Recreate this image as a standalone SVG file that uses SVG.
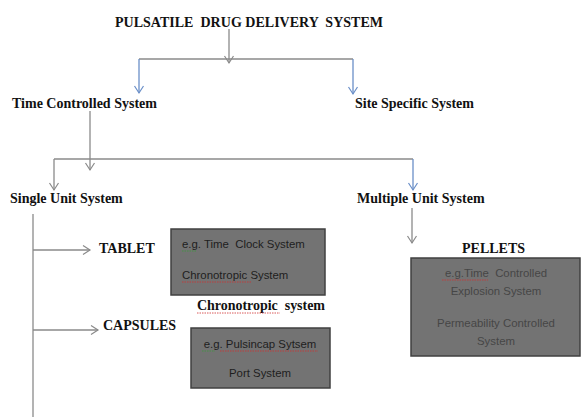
<svg xmlns="http://www.w3.org/2000/svg" width="581" height="417" viewBox="0 0 581 417">
<style>
.lbl{font-family:"Liberation Serif","Times New Roman",serif;font-weight:bold;font-size:14px;fill:#111}
.bx{fill:#737373;stroke:#404040;stroke-width:1.5}
.bt{font-family:"Liberation Sans",Arial,sans-serif;font-size:11.4px;fill:#1e1e1e}
.bt2{font-family:"Liberation Sans",Arial,sans-serif;font-size:11.4px;fill:#464646}
.g{stroke:#8a8a8a;stroke-width:1.3;fill:none}
.b{stroke:#6a8fc8;stroke-width:1.3;fill:none}
.sp{stroke:#d03030;stroke-width:0.8;fill:none;stroke-dasharray:1.5 1}
.sg{stroke:#3a9a3a;stroke-width:0.8;fill:none;stroke-dasharray:1.5 1}
</style>
<defs>
<marker id="ag" markerWidth="12" markerHeight="12" refX="0" refY="0" viewBox="-8 -6 10 12" orient="auto" markerUnits="userSpaceOnUse">
<path d="M-7,-4.5 L0,0 L-7,4.5" fill="none" stroke="#8a8a8a" stroke-width="1.2"/>
</marker>
<marker id="ab" markerWidth="12" markerHeight="12" refX="0" refY="0" viewBox="-8 -6 10 12" orient="auto" markerUnits="userSpaceOnUse">
<path d="M-7,-4.5 L0,0 L-7,4.5" fill="none" stroke="#6a8fc8" stroke-width="1.2"/>
</marker>
</defs>
<rect width="581" height="417" fill="#fff"/>
<g id="connectors">
<line class="g" x1="229" y1="29" x2="229" y2="63" marker-end="url(#ag)"/>
<line class="g" x1="139" y1="59" x2="353" y2="59"/>
<line class="b" x1="139" y1="59" x2="139" y2="93" marker-end="url(#ab)"/>
<line class="b" x1="353" y1="59" x2="353" y2="94" marker-end="url(#ab)"/>
<line class="g" x1="90" y1="111" x2="90" y2="170" marker-end="url(#ag)"/>
<line class="g" x1="54" y1="159" x2="413" y2="159"/>
<line class="g" x1="54" y1="159" x2="54" y2="190" marker-end="url(#ag)"/>
<line class="b" x1="413" y1="159" x2="413" y2="190" marker-end="url(#ab)"/>
<line class="g" x1="412" y1="208" x2="412" y2="243" marker-end="url(#ag)"/>
<line class="g" x1="33" y1="214" x2="33" y2="417"/>
<line class="g" x1="33" y1="250" x2="90" y2="250" marker-end="url(#ag)"/>
<line class="g" x1="33" y1="330" x2="98" y2="330" marker-end="url(#ag)"/>
</g>
<g id="title"><text class="lbl" x="115" y="27" xml:space="preserve" textLength="268" lengthAdjust="spacing">PULSATILE  DRUG DELIVERY  SYSTEM</text></g>
<g id="time-controlled"><text class="lbl" x="12" y="108">Time Controlled System</text></g>
<g id="site-specific"><text class="lbl" x="355" y="108">Site Specific System</text></g>
<g id="single-unit"><text class="lbl" x="10" y="203">Single Unit System</text></g>
<g id="multiple-unit"><text class="lbl" x="357" y="203">Multiple Unit System</text></g>
<g id="tablet"><text class="lbl" x="99" y="253">TABLET</text></g>
<g id="capsules"><text class="lbl" x="103" y="330">CAPSULES</text></g>
<g id="pellets"><text class="lbl" x="462" y="253">PELLETS</text></g>
<g id="chronotropic"><text class="lbl" x="197" y="310" xml:space="preserve" textLength="128" lengthAdjust="spacing">Chronotropic  system</text>
<path class="sp" d="M197,313 L280,313"/></g>
<g id="tablet-box">
<rect class="bx" x="171" y="229" width="154" height="66"/>
<text class="bt" x="182" y="248" xml:space="preserve">e.g. Time  Clock System</text>
<text class="bt" x="182" y="279">Chronotropic System</text>
<path class="sg" d="M182,251 L196,251"/>
<path class="sp" d="M182,282 L251,282"/>
</g>
<g id="capsule-box">
<rect class="bx" x="191" y="328" width="139" height="60"/>
<text class="bt" x="260" y="348" text-anchor="middle">e.g. Pulsincap Sytsem</text>
<text class="bt" x="260" y="377" text-anchor="middle">Port System</text>
<path class="sg" d="M202,351 L215,351"/>
<path class="sp" d="M220,351 L318,351"/>
</g>
<g id="pellets-box">
<rect class="bx" x="411" y="258" width="169" height="98"/>
<text class="bt2" x="496" y="277" text-anchor="middle" xml:space="preserve">e.g.Time  Controlled</text>
<text class="bt2" x="496" y="295" text-anchor="middle">Explosion System</text>
<text class="bt2" x="496" y="327" text-anchor="middle">Permeability Controlled</text>
<text class="bt2" x="496" y="345" text-anchor="middle">System</text>
<path class="sp" d="M442,280 L488,280"/>
</g>
</svg>
